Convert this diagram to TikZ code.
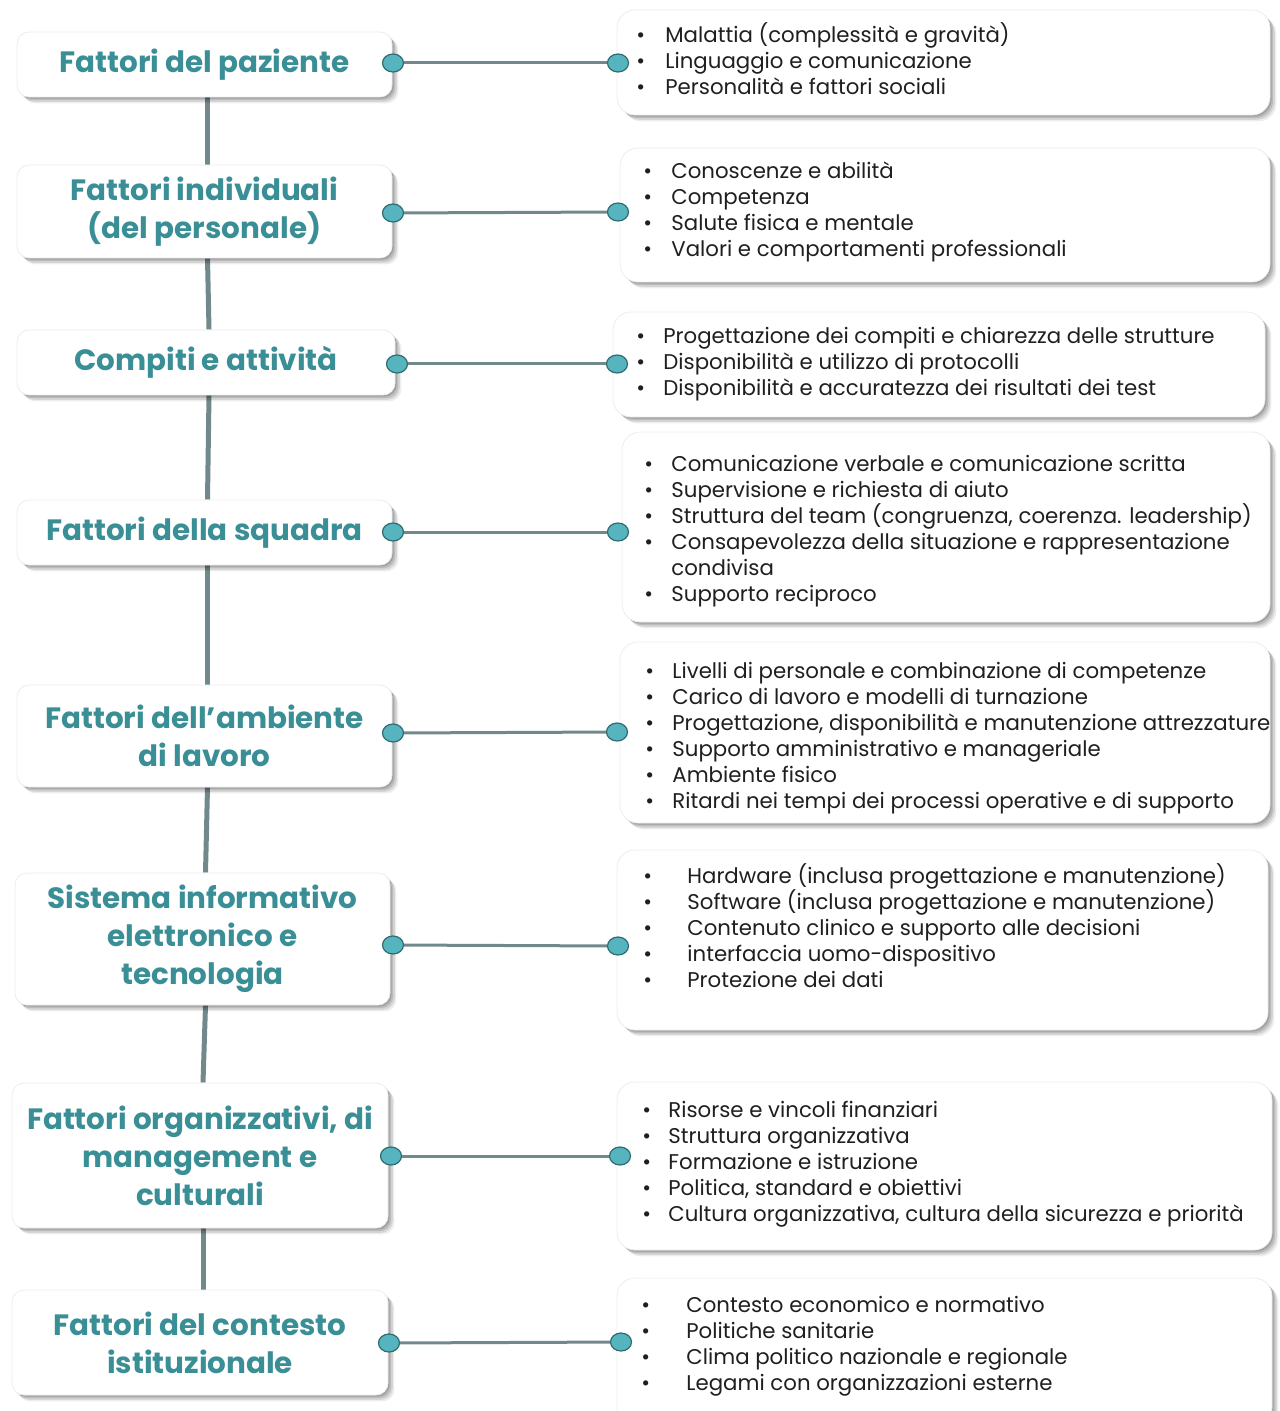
\documentclass[tikz,border=0pt]{standalone}
\usepackage{fontspec}
\setmainfont{Poppins}
\usetikzlibrary{positioning,fit,shadows,backgrounds,shapes.geometric}
\definecolor{titteal}{HTML}{3A8F96}
\definecolor{puntofill}{HTML}{56B4BE}
\definecolor{puntobordo}{HTML}{2E6B70}
\definecolor{lineagrigia}{HTML}{72898B}
\definecolor{testoscuro}{HTML}{1F1F1F}
\newcommand{\vo}[1][13.5pt]{\makebox[#1][l]{\textbullet}}
\tikzset{
  ombra/.style={draw=black!7,line width=0.4pt,
    drop shadow={shadow xshift=0.8pt,shadow yshift=-0.8pt,opacity=0.14,fill=black},
    drop shadow={shadow xshift=1.6pt,shadow yshift=-1.6pt,opacity=0.12,fill=black},
    drop shadow={shadow xshift=2.4pt,shadow yshift=-2.4pt,opacity=0.10,fill=black},
    drop shadow={shadow xshift=3.2pt,shadow yshift=-3.2pt,opacity=0.07,fill=black}}
}

\begin{document}
\begin{tikzpicture}[x=0.5pt,y=-0.5pt,
  fattbox/.style 2 args={ombra,fill=white,rounded corners=6pt,inner sep=0pt,
    minimum width=#1,minimum height=#2,
    font=\bfseries\fontsize{14.7}{19}\selectfont,text=titteal,align=center},
  dettbox/.style={ombra,fill=white,rounded corners=9pt,inner sep=0pt},
  dett/.style={anchor=west,inner sep=0pt,align=left,text=testoscuro,
    font=\fontsize{10.65}{13}\selectfont},
  punto/.style={ellipse,draw=puntobordo,fill=puntofill,line width=0.6pt,
    minimum width=10.5pt,minimum height=9pt,inner sep=0pt},
  spine/.style={draw=lineagrigia,line width=2.5pt},
  conn/.style={draw=lineagrigia,line width=1.5pt}]
  \useasboundingbox (0,0) rectangle (1279,1411);

  % riquadri dei fattori
  \node[fattbox={187.5pt}{32.5pt}] (paziente) at (204.5,64.5) {Fattori del paziente};
  \node[fattbox={187.5pt}{46.5pt}] (individuali) at (204.5,211.5) {Fattori individuali\\(del personale)};
  \node[fattbox={189pt}{32.5pt}] (compiti) at (206,362.5) {Compiti e attività};
  \node[fattbox={187.5pt}{32.5pt}] (squadra) at (204.5,532.5) {Fattori della squadra};
  \node[fattbox={187.5pt}{51pt}] (ambiente) at (204.5,736) {Fattori dell’ambiente\\di lavoro};
  \node[fattbox={187.5pt}{66pt}] (sistema) at (202.5,939) {Sistema informativo\\elettronico e\\tecnologia};
  \node[fattbox={188pt}{72.5pt}] (organizz) at (200,1155.5) {Fattori organizzativi, di\\management e\\culturali};
  \node[fattbox={188pt}{52.5pt}] (contesto) at (200,1342.5) {Fattori del contesto\\istituzionale};

  % riquadri dei dettagli
  \node[dettbox,fit={(617,10) (1270,115)}] (paziente-d) {};
  \node[dettbox,fit={(620,148) (1270,282)}] (individuali-d) {};
  \node[dettbox,fit={(613,312) (1265,417)}] (compiti-d) {};
  \node[dettbox,fit={(622,432) (1270,622)}] (squadra-d) {};
  \node[dettbox,fit={(620,642) (1270,823)}] (ambiente-d) {};
  \node[dettbox,fit={(617,850) (1268,1030)}] (sistema-d) {};
  \node[dettbox,fit={(617,1082) (1272,1250)}] (organizz-d) {};
  \node[dettbox,fit={(617,1278) (1272,1425)}] (contesto-d) {};

  \node[dett] (paziente-t) at (636,59) {\vo[14.5pt]Malattia (complessità e gravità)\\
    \vo[14.5pt]Linguaggio e comunicazione\\\vo[14.5pt]Personalità e fattori sociali};
  \node[dett] (individuali-t) at (643,212) {\vo[14pt]Conoscenze e abilità\\\vo[14pt]Competenza\\
    \vo[14pt]Salute fisica e mentale\\\vo[14pt]Valori e comportamenti professionali};
  \node[dett] (compiti-t) at (636,364) {\vo Progettazione dei compiti e chiarezza delle strutture\\
    \vo Disponibilità e utilizzo di protocolli\\
    \vo Disponibilità e accuratezza dei risultati dei test};
  \node[dett] (squadra-t) at (644,531) {\vo Comunicazione verbale e comunicazione scritta\\
    \vo Supervisione e richiesta di aiuto\\
    \vo Struttura del team (congruenza, coerenza. leadership)\\
    \vo Consapevolezza della situazione e rappresentazione\\
    \hspace*{13.5pt}condivisa\\\vo Supporto reciproco};
  \node[dett] (ambiente-t) at (645,738) {\vo Livelli di personale e combinazione di competenze\\
    \vo Carico di lavoro e modelli di turnazione\\
    \vo Progettazione, disponibilità e manutenzione attrezzature\\
    \vo Supporto amministrativo e manageriale\\\vo Ambiente fisico\\
    \vo Ritardi nei tempi dei processi operative e di supporto};
  \node[dett] (sistema-t) at (643,926) {\vo[22pt]Hardware (inclusa progettazione e manutenzione)\\
    \vo[22pt]Software (inclusa progettazione e manutenzione)\\
    \vo[22pt]Contenuto clinico e supporto alle decisioni\\
    \vo[22pt]interfaccia uomo-dispositivo\\\vo[22pt]Protezione dei dati};
  \node[dett] (organizz-t) at (642,1164) {\vo[13pt]Risorse e vincoli finanziari\\
    \vo[13pt]Struttura organizzativa\\\vo[13pt]Formazione e istruzione\\
    \vo[13pt]Politica, standard e obiettivi\\
    \vo[13pt]Cultura organizzativa, cultura della sicurezza e priorità};
  \node[dett] (contesto-t) at (641,1346) {\vo[22.5pt]Contesto economico e normativo\\
    \vo[22.5pt]Politiche sanitarie\\\vo[22.5pt]Clima politico nazionale e regionale\\
    \vo[22.5pt]Legami con organizzazioni esterne};

  % linea verticale
  \begin{scope}[on background layer]
    \foreach \a/\b in {paziente/individuali,individuali/compiti,compiti/squadra,
      squadra/ambiente,ambiente/sistema,sistema/organizz,organizz/contesto}
      \draw[spine] ([xshift=1.5pt]\a.south) -- ([xshift=1.5pt]\b.north);
  \end{scope}

  % punti di collegamento
  \node[punto] (paziente-l) at (393,63) {};
  \node[punto] (paziente-r) at (618,63) {};
  \node[punto] (individuali-l) at (393,213) {};
  \node[punto] (individuali-r) at (618,212) {};
  \node[punto] (compiti-l) at (397,364) {};
  \node[punto] (compiti-r) at (617,364) {};
  \node[punto] (squadra-l) at (393,532) {};
  \node[punto] (squadra-r) at (618,532) {};
  \node[punto] (ambiente-l) at (393,733) {};
  \node[punto] (ambiente-r) at (617,732) {};
  \node[punto] (sistema-l) at (393,945) {};
  \node[punto] (sistema-r) at (618,946) {};
  \node[punto] (organizz-l) at (391,1156) {};
  \node[punto] (organizz-r) at (620,1156) {};
  \node[punto] (contesto-l) at (389,1343) {};
  \node[punto] (contesto-r) at (621,1342) {};
  \foreach \n in {paziente,individuali,compiti,squadra,ambiente,sistema,organizz,contesto}
    \draw[conn] (\n-l) -- (\n-r);
\end{tikzpicture}
\end{document}
